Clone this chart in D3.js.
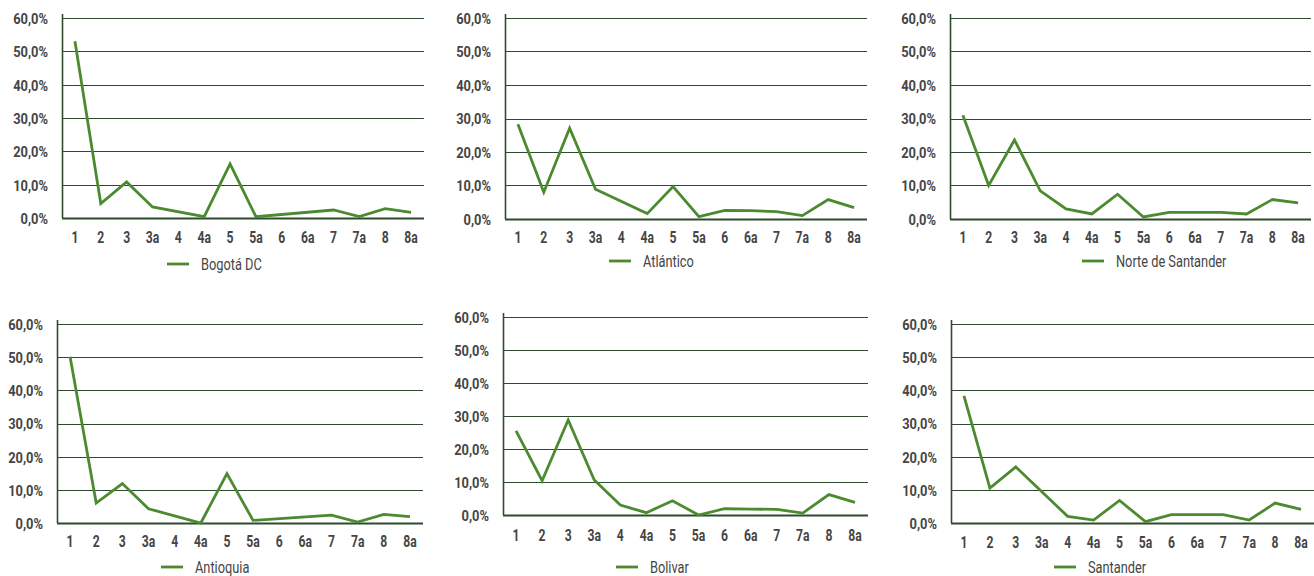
<!DOCTYPE html>
<html>
<head>
<meta charset="utf-8">
<script src="https://cdn.jsdelivr.net/npm/d3@7"></script>
<style>
  body { margin: 0; background: #fff; }
  svg { display: block; }
  text { font-family: "Roboto", "Liberation Sans", sans-serif; }
</style>
</head>
<body>
<svg id="chart" width="1314" height="576"></svg>
<script>
// ---- data ----
const categories = ["1","2","3","3a","4","4a","5","5a","6","6a","7","7a","8","8a"];
const yTicks = [0, 0.1, 0.2, 0.3, 0.4, 0.5, 0.6];
const regionNames = ["Bogotá DC", "Atlántico", "Norte de Santander", "Antioquia", "Bolivar", "Santander"];
const bogota    = [0.530, 0.043, 0.108, 0.033, null, 0.004, 0.162, 0.004, null, null, 0.024, 0.004, 0.028, 0.017];
const atlantico = [0.283, 0.080, 0.271, 0.089, null, 0.016, 0.097, 0.007, 0.026, 0.025, 0.022, 0.010, 0.058, 0.034];
const norteSant = [0.310, 0.100, 0.236, 0.084, 0.030, 0.015, 0.074, 0.006, 0.020, 0.020, 0.020, 0.015, 0.058, 0.048];
const antioquia = [0.501, 0.060, 0.119, 0.043, null, 0.000, 0.149, 0.008, null, null, 0.024, 0.003, 0.026, 0.019];
const bolivar   = [0.255, 0.104, 0.288, 0.106, 0.030, 0.007, 0.043, 0.000, 0.019, 0.018, 0.017, 0.006, 0.062, 0.038];
const santander = [0.383, 0.105, 0.169, null, 0.020, 0.009, 0.068, 0.004, 0.025, 0.025, 0.025, 0.009, 0.060, 0.041];
const seriesValues = [bogota, atlantico, norteSant, antioquia, bolivar, santander];

// ---- layout per panel (pixel frames) ----
const panels = [
  { left: 62,  right: 424,  top: 18,  bottom: 218, labelY: 237, legX: 167,  legY: 264 },
  { left: 505, right: 867,  top: 18,  bottom: 219, labelY: 237, legX: 609,  legY: 261 },
  { left: 950, right: 1311, top: 18,  bottom: 219, labelY: 237, legX: 1082, legY: 261 },
  { left: 57,  right: 423,  top: 324, bottom: 523, labelY: 541, legX: 161,  legY: 567 },
  { left: 503, right: 868,  top: 317, bottom: 515, labelY: 535, legX: 616,  legY: 567 },
  { left: 951, right: 1320, top: 324, bottom: 523, labelY: 542, legX: 1054, legY: 567 }
];

const LINE = "#4b8a2f";
const GRID = "#2f4b2f";
const TEXT = "#454545";
const SXY = 0.86;  // horizontal squeeze, y labels
const SXX = 0.76;  // horizontal squeeze, x labels
const fmt = v => d3.format(".1f")(v * 100).replace(".", ",") + "%";

const svg = d3.select("#chart");

panels.forEach((p, i) => {
  const g = svg.append("g");
  const x = d3.scaleBand().domain(categories).range([p.left, p.right - (i === 5 ? 6 : 0)]).paddingInner(0).paddingOuter(0);
  const y = d3.scaleLinear().domain([0, 0.6]).range([p.bottom, p.top]);

  // gridlines
  g.append("g").selectAll("line").data(yTicks.filter(t => t > 0)).join("line")
    .attr("x1", p.left).attr("x2", p.right)
    .attr("y1", d => Math.round(y(d)) + 0.5).attr("y2", d => Math.round(y(d)) + 0.5)
    .attr("stroke", GRID).attr("stroke-width", 1.2);

  // y axis
  const pad = 14;
  const yAxis = d3.axisLeft(y).tickValues(yTicks).tickFormat(fmt).tickSize(0).tickPadding(pad);
  const ya = g.append("g").attr("transform", `translate(${p.left},0)`).call(yAxis);
  ya.select(".domain").attr("stroke", GRID).attr("stroke-width", 1.6)
    .attr("d", `M0.5,${p.top - 4}V${p.bottom}`);
  ya.selectAll("text").attr("fill", TEXT).attr("font-size", 15).attr("font-weight", "bold")
    .attr("x", -pad / SXY).attr("dy", "0.36em").attr("transform", `scale(${SXY},1)`);

  // x axis baseline
  g.append("line").attr("x1", p.left).attr("x2", p.right)
    .attr("y1", p.bottom + 0.5).attr("y2", p.bottom + 0.5)
    .attr("stroke", GRID).attr("stroke-width", 1.8);

  // x labels
  const xAxis = d3.axisBottom(x).tickSize(0).tickPadding(0);
  const xa = g.append("g").attr("transform", `translate(0,${p.labelY})`).call(xAxis);
  xa.select(".domain").remove();
  xa.selectAll("text").attr("fill", TEXT).attr("font-size", 16).attr("font-weight", "bold")
    .attr("y", 0).attr("dy", "0.36em").attr("transform", `scale(${SXX},1)`);

  // series line (gaps connected)
  const pts = categories.map((c, k) => ({ c, v: seriesValues[i][k] })).filter(d => d.v !== null);
  const line = d3.line().x(d => x(d.c) + x.bandwidth() / 2).y(d => y(d.v));
  g.append("path").datum(pts).attr("d", line)
    .attr("fill", "none").attr("stroke", LINE).attr("stroke-width", 2.8)
    .attr("stroke-linejoin", "miter");

  // legend
  g.append("line").attr("x1", p.legX).attr("x2", p.legX + 22)
    .attr("y1", p.legY).attr("y2", p.legY)
    .attr("stroke", LINE).attr("stroke-width", 2.8);
  g.append("text").attr("transform", `translate(${p.legX + 34},${p.legY}) scale(0.8,1)`)
    .attr("dy", "0.36em")
    .attr("fill", TEXT).attr("font-size", 16).text(regionNames[i]);
});
</script>
</body>
</html>
